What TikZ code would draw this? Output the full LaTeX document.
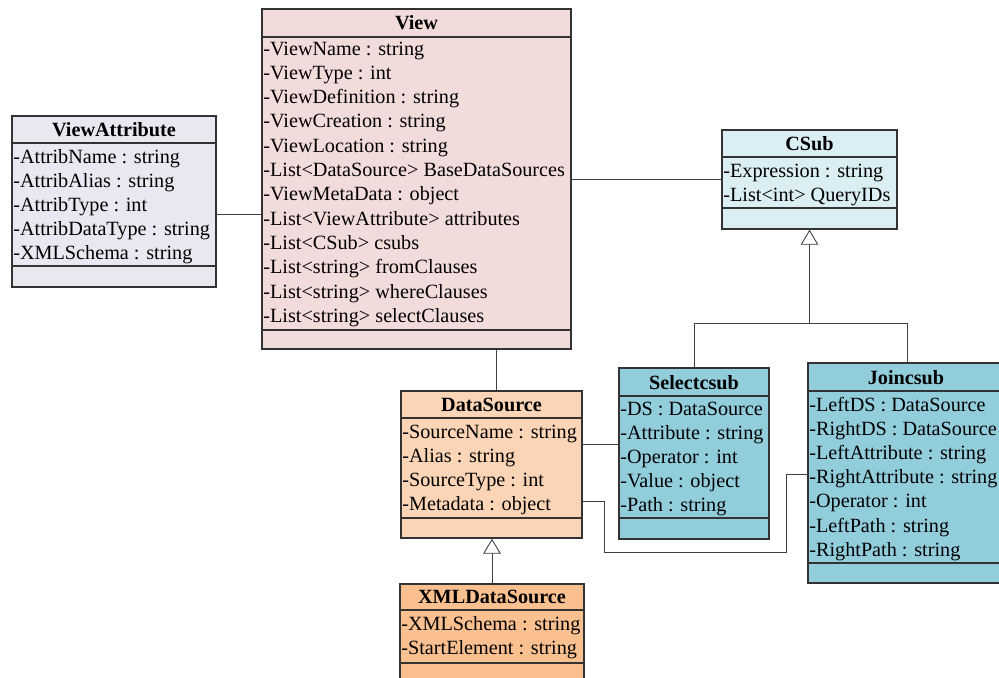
\documentclass[tikz,border=0pt]{standalone}
\usepackage{fontspec}
\setmainfont{Liberation Serif}
\usepackage{tikz}
\usetikzlibrary{fit,arrows.meta}

\definecolor{viewpink}{HTML}{F2DCDB}
\definecolor{attrlilac}{HTML}{EBE7F0}
\definecolor{csubblue}{HTML}{DAEEF3}
\definecolor{subteal}{HTML}{92CDDC}
\definecolor{dspeach}{HTML}{FBD5B5}
\definecolor{xmlorange}{HTML}{FAC090}

\tikzset{
  cls/.style={draw=black!80, line width=0.8pt, inner sep=0pt},
  sep/.style={draw=black!80, line width=0.8pt},
  ttl/.style={anchor=base, inner sep=0pt, font=\fontsize{11.5}{13.8}\selectfont\bfseries},
  attr/.style={anchor=base west, inner sep=0pt, font=\fontsize{11.5}{13.8}\selectfont},
  assoc/.style={draw=black!75, line width=0.5pt},
  inherit/.style={assoc, -{Triangle[open, length=8.5pt, width=10pt]}}
}

\begin{document}
\begin{tikzpicture}[x=0.02cm, y=-0.02cm]
\useasboundingbox (0,0) rectangle (999,677);
\fill[white] (0,0) rectangle (999,677);

% View
\node[cls, fill=viewpink, fit={(262,9) (571,349)}] (view) {};
\draw[sep] (262,37) -- (571,37);
\draw[sep] (262,330) -- (571,330);
\node[ttl] (view-t) at (416.5,29) {View};
\foreach \t [count=\i] in {-ViewName : string, -ViewType : int, -ViewDefinition : string,
  -ViewCreation : string, -ViewLocation : string, -List<DataSource> BaseDataSources,
  -ViewMetaData : object, -List<ViewAttribute> attributes, -List<CSub> csubs,
  -List<string> fromClauses, -List<string> whereClauses, -List<string> selectClauses}
  \node[attr] (view-\i) at (263,55+24.3*\i-24.3) {\t};

% ViewAttribute
\node[cls, fill=attrlilac, fit={(12,116) (216,287)}] (vattr) {};
\draw[sep] (12,143) -- (216,143);
\draw[sep] (12,266) -- (216,266);
\node[ttl] (vattr-t) at (114,136) {ViewAttribute};
\foreach \t [count=\i] in {-AttribName : string, -AttribAlias : string, -AttribType : int,
  -AttribDataType : string, -XMLSchema : string}
  \node[attr] (vattr-\i) at (13,163+24*\i-24) {\t};

% CSub
\node[cls, fill=csubblue, fit={(722,130) (897,229)}] (csub) {};
\draw[sep] (722,157) -- (897,157);
\draw[sep] (722,208) -- (897,208);
\node[ttl] (csub-t) at (809.5,150) {CSub};
\foreach \t [count=\i] in {-Expression : string, -List<int> QueryIDs}
  \node[attr] (csub-\i) at (723,177+24*\i-24) {\t};

% DataSource
\node[cls, fill=dspeach, fit={(401,391) (582,538)}] (dsrc) {};
\draw[sep] (401,418) -- (582,418);
\draw[sep] (401,518) -- (582,518);
\node[ttl] (dsrc-t) at (491.5,411) {DataSource};
\foreach \t [count=\i] in {-SourceName : string, -Alias : string, -SourceType : int,
  -Metadata : object}
  \node[attr] (dsrc-\i) at (402,438+24*\i-24) {\t};

% XMLDataSource
\node[cls, fill=xmlorange, fit={(400,584) (584,700)}] (xmlds) {};
\draw[sep] (400,610) -- (584,610);
\draw[sep] (400,663) -- (584,663);
\node[ttl] (xmlds-t) at (492,603) {XMLDataSource};
\foreach \t [count=\i] in {-XMLSchema : string, -StartElement : string}
  \node[attr] (xmlds-\i) at (401,630+24*\i-24) {\t};

% Selectcsub
\node[cls, fill=subteal, fit={(619,368) (769,539)}] (selsub) {};
\draw[sep] (619,396) -- (769,396);
\draw[sep] (619,518) -- (769,518);
\node[ttl] (selsub-t) at (694,389) {Selectcsub};
\foreach \t [count=\i] in {-DS : DataSource, -Attribute : string, -Operator : int,
  -Value : object, -Path : string}
  \node[attr] (selsub-\i) at (620,415+24.2*\i-24.2) {\t};

% Joincsub
\node[cls, fill=subteal, fit={(808,363) (1012,583)}] (joinsub) {};
\draw[sep] (808,391) -- (1012,391);
\draw[sep] (808,563) -- (1012,563);
\node[ttl] (joinsub-t) at (906,384) {Joincsub};
\foreach \t [count=\i] in {-LeftDS : DataSource, -RightDS : DataSource, -LeftAttribute : string,
  -RightAttribute : string, -Operator : int, -LeftPath : string, -RightPath : string}
  \node[attr] (joinsub-\i) at (809,411+24.2*\i-24.2) {\t};

% associations
\draw[assoc] (vattr.east |- 0,214) -- (view.west |- 0,214);
\draw[assoc] (csub.west) -- (csub.west -| view.east);
\draw[assoc] (view.south -| 496,0) -- (dsrc.north -| 496,0);
\draw[assoc] (dsrc.east |- 0,444) -- (selsub.west |- 0,444);
\draw[assoc] (dsrc.east |- 0,501) -| (604,552) -| (786,474) -- (joinsub.west |- 0,474);

% generalisations
\draw[inherit] (xmlds.north) -- (xmlds.north |- dsrc.south);
\draw[assoc] (selsub.north) |- (907,323) -- (joinsub.north -| 907,0);
\draw[inherit] (csub.south |- 0,323) -- (csub.south);
\end{tikzpicture}
\end{document}
